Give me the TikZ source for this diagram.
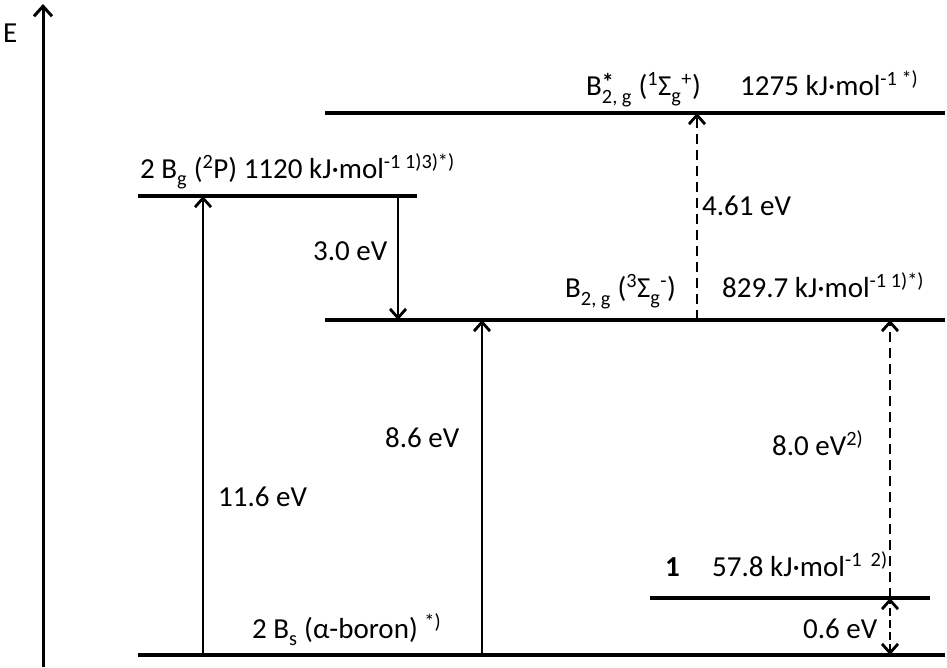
\documentclass[tikz,border=0pt]{standalone}
\usepackage{fontspec}
\setmainfont{Carlito}
\usetikzlibrary{arrows.meta}
\newcommand{\lowsub}[1]{\raisebox{-0.3ex}{\textsubscript{#1}}}
\begin{document}
\begin{tikzpicture}[x=1pt,y=-1pt,
  level/.style={line width=3.5pt},
  tip/.tip={Straight Barb[length=9pt,width=16pt,line width=2.8pt]},
  trans/.style={line width=2.8pt,-tip},
  dtrans/.style={trans,dash pattern=on 10pt off 6pt},
  lbl/.style={anchor=base west,inner sep=0pt,font=\fontsize{29}{33}\selectfont}]
\useasboundingbox (0,0) rectangle (947,667);
% coordinates of levels
\coordinate (axB) at (43,667); \coordinate (axT) at (43,4);
\coordinate (g0L) at (138,655); \coordinate (g0R) at (945,655);
\coordinate (bgL) at (138,196); \coordinate (bgR) at (417,196);
\coordinate (b2L) at (325,320); \coordinate (b2R) at (945,320);
\coordinate (bsL) at (325,113); \coordinate (bsR) at (945,113);
\coordinate (l1L) at (650,598); \coordinate (l1R) at (930,598);
% points on levels
\coordinate (a1s) at (203,655); \coordinate (a1e) at (203,196);
\coordinate (a2s) at (398,196); \coordinate (a2e) at (398,320);
\coordinate (a3s) at (482,655); \coordinate (a3e) at (482,320);
\coordinate (a4s) at (697,320); \coordinate (a4e) at (697,113);
\coordinate (a5s) at (890,598); \coordinate (a5e) at (890,320);
\coordinate (a6s) at (890,655); \coordinate (a6e) at (890,598);
% axis
\draw[line width=3pt,-{Straight Barb[length=10pt,width=18pt,line width=3pt]}] (axB) -- (axT);
\node[lbl] (E) at (3,42) {E};
% levels
\draw[level] (g0L) -- (g0R);
\draw[level] (bgL) -- (bgR);
\draw[level] (b2L) -- (b2R);
\draw[level] (bsL) -- (bsR);
\draw[level] (l1L) -- (l1R);
% transitions
\draw[trans] (a1s) -- (a1e);
\draw[trans] (a2s) -- (a2e);
\draw[trans] (a3s) -- (a3e);
\draw[dtrans] (a4s) -- (a4e);
\draw[dtrans] (a5s) -- (a5e);
\draw[dtrans,tip-tip,dash pattern=on 8pt off 4pt] (a6s) -- (a6e);
% labels
\node[lbl] (tbg) at (140,178) {2 B\lowsub{g} (\textsuperscript{2}P) 1120 kJ·mol\textsuperscript{-1 1)3)*)}};
\node[lbl] (tbs) at (586,95) {B\rlap{\raisebox{0.35ex}{\fontsize{24}{24}\selectfont\bfseries *}}\lowsub{2, g} (\textsuperscript{1}Σ\lowsub{g}\textsuperscript{+})};
\node[lbl] (ebs) at (740,95) {1275 kJ·mol\textsuperscript{-1 *)}};
\node[lbl] (tb2) at (565,297) {B\lowsub{2, g} (\textsuperscript{3}Σ\lowsub{g}\textsuperscript{-})};
\node[lbl] (eb2) at (722,297) {829.7 kJ·mol\textsuperscript{-1 1)*)}};
\node[lbl,font=\fontsize{29}{33}\selectfont\bfseries] (t1) at (665,576) {1};
\node[lbl] (e1) at (712,576) {57.8 kJ·mol\textsuperscript{-1 \ 2)}};
\node[lbl] (tg0) at (252,638) {2 B\lowsub{s} (α-boron) \textsuperscript{*)}};
\node[lbl] (l30) at (313,260) {3.0 eV};
\node[lbl] (l461) at (702,215) {4.61 eV};
\node[lbl] (l86) at (385,447) {8.6 eV};
\node[lbl] (l116) at (218,506) {11.6 eV};
\node[lbl] (l80) at (772,455) {8.0 eV\textsuperscript{2)}};
\node[lbl] (l06) at (803,638) {0.6 eV};
\end{tikzpicture}
\end{document}
